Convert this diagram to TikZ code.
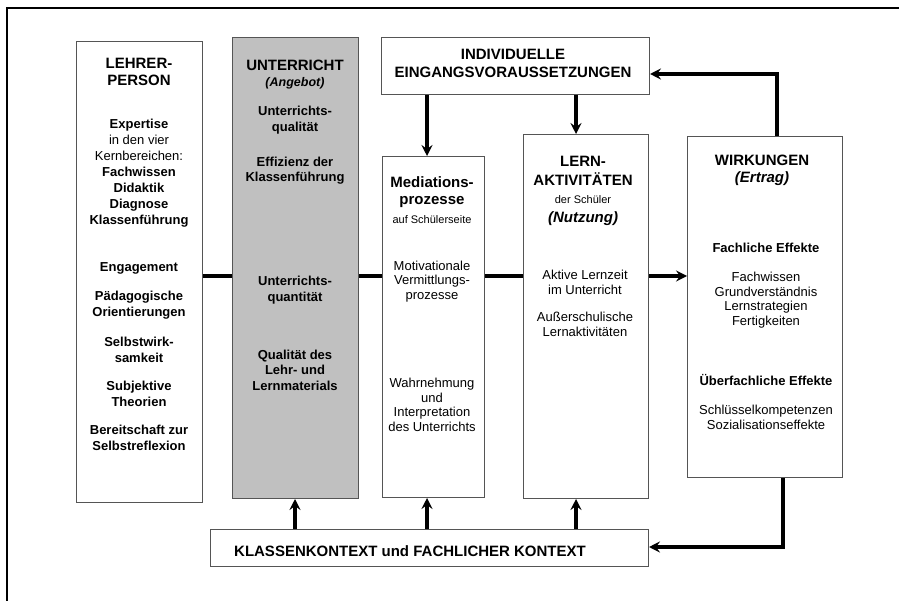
\documentclass[tikz,border=0pt]{standalone}
\usepackage{fontspec}
\setmainfont{Liberation Sans}
\usetikzlibrary{arrows.meta}
\definecolor{offergray}{RGB}{192,192,192}
\definecolor{boxline}{RGB}{85,85,85}

\begin{document}
\begin{tikzpicture}[x=1pt,y=-1pt,
  box/.style={draw=boxline, line width=1pt, inner sep=0pt, anchor=north west},
  conn/.style={line width=3.2pt},
  arr/.style={line width=3.2pt, -{Stealth[length=11pt,width=11pt,inset=4pt]}},
  head/.style={font=\fontsize{15}{17.5}\selectfont\bfseries, align=center, inner sep=0pt},
  headit/.style={font=\fontsize{15}{17.5}\selectfont\bfseries\itshape, align=center, inner sep=0pt},
  item/.style={font=\fontsize{13}{15.5}\selectfont\bfseries, align=center, inner sep=0pt},
  plain/.style={font=\fontsize{13}{14.6}\selectfont, align=center, inner sep=0pt},
  small/.style={font=\fontsize{11}{13}\selectfont, align=center, inner sep=0pt},
]
\useasboundingbox (0,0) rectangle (899,601);

% outer frame (top and left edges)
\draw[line width=2pt] (7,601) -- (7,8) -- (899,8);

% boxes
\node[box, minimum width=126pt, minimum height=461pt] (lehrer) at (76,41) {};
\node[box, fill=offergray, minimum width=126pt, minimum height=461pt] (unterricht) at (232,37) {};
\node[box, minimum width=268pt, minimum height=57pt] (indiv) at (381,37) {};
\node[box, minimum width=102pt, minimum height=341pt] (med) at (382,156) {};
\node[box, minimum width=125pt, minimum height=364pt] (lern) at (523,134) {};
\node[box, minimum width=155pt, minimum height=341pt] (wirk) at (687,136) {};
\node[box, minimum width=438pt, minimum height=37pt] (klasse) at (210,529) {};

% texts: Lehrerperson
\node[head] (t1) at (139,72) {LEHRER-\\PERSON};
\node[item, font=\fontsize{13}{16}\selectfont\bfseries] (t2) at (139,172.7)
  {Expertise\\\mdseries in den vier\\\mdseries Kernbereichen:\\Fachwissen\\Didaktik\\Diagnose\\Klassenführung};
\node[item] (t3) at (139,268.7) {Engagement};
\node[item] (t4) at (139,305) {Pädagogische\\Orientierungen};
\node[item] (t5) at (139,350) {Selbstwirk-\\samkeit};
\node[item] (t6) at (139,394) {Subjektive\\Theorien};
\node[item] (t7) at (139,438) {Bereitschaft zur\\Selbstreflexion};

% texts: Unterricht
\node[head] (u1) at (295,65) {UNTERRICHT};
\node[headit, font=\fontsize{12.5}{15}\selectfont\bfseries\itshape] (u2) at (295,83.3) {(Angebot)};
\node[item] (u3) at (295,120) {Unterrichts-\\qualität};
\node[item] (u4) at (295,170.8) {Effizienz der\\Klassenführung};
\node[item] (u5) at (295,290) {Unterrichts-\\quantität};
\node[item] (u6) at (295,370) {Qualität des\\Lehr- und\\Lernmaterials};

% texts: Eingangsvoraussetzungen
\node[head, font=\fontsize{15}{18.4}\selectfont\bfseries] (i1) at (513,63.5) {INDIVIDUELLE\\EINGANGSVORAUSSETZUNGEN};

% texts: Mediationsprozesse
\node[head] (m1) at (432,192.2) {Mediations-\\prozesse};
\node[small] (m2) at (432,220) {auf Schülerseite};
\node[plain] (m3) at (432,281.5) {Motivationale\\Vermittlungs-\\prozesse};
\node[plain] (m4) at (432,405) {Wahrnehmung\\und\\Interpretation\\des Unterrichts};

% texts: Lernaktivitaeten
\node[head, font=\fontsize{15}{19}\selectfont\bfseries] (l1) at (583,171.3) {LERN-\\AKTIVITÄTEN};
\node[small] (l2) at (583,199.3) {der Schüler};
\node[headit] (l3) at (583,218.3) {(Nutzung)};
\node[plain] (l4) at (585,282.2) {Aktive Lernzeit\\im Unterricht};
\node[plain] (l5) at (585,324.2) {Außerschulische\\Lernaktivitäten};

% texts: Wirkungen
\node[head] (w1) at (762,160) {WIRKUNGEN};
\node[headit] (w2) at (762,178.3) {(Ertrag)};
\node[item] (w3) at (766,248.3) {Fachliche Effekte};
\node[plain] (w4) at (766,300.3) {Fachwissen\\Grundverständnis\\Lernstrategien\\Fertigkeiten};
\node[item] (w5) at (766,380) {Überfachliche Effekte};
\node[plain] (w6) at (766,417.2) {Schlüsselkompetenzen\\Sozialisationseffekte};

% texts: Kontext
\node[head] (k1) at (410,550.7) {KLASSENKONTEXT und FACHLICHER KONTEXT};

% connector guide coordinates
\coordinate (row) at (0,276);
\coordinate (colA) at (295,0);
\coordinate (colB) at (427,0);
\coordinate (colC) at (576,0);
\coordinate (fbtop) at (777,74);
\coordinate (fbbot) at (783,547);

% main chain
\draw[conn] (lehrer.east |- row) -- (unterricht.west |- row);
\draw[conn] (unterricht.east |- row) -- (med.west |- row);
\draw[conn] (med.east |- row) -- (lern.west |- row);
\draw[arr] (lern.east |- row) -- (wirk.west |- row);

% input prerequisites
\draw[arr] (indiv.south -| colB) -- (med.north -| colB);
\draw[arr] (indiv.south -| colC) -- (lern.north -| colC);

% context
\draw[arr] (klasse.north -| colA) -- (unterricht.south -| colA);
\draw[arr] (klasse.north -| colB) -- (med.south -| colB);
\draw[arr] (klasse.north -| colC) -- (lern.south -| colC);

% feedback loops
\draw[arr] (wirk.north -| fbtop) |- (indiv.east |- fbtop);
\draw[arr] (wirk.south -| fbbot) |- (klasse.east |- fbbot);
\end{tikzpicture}
\end{document}
